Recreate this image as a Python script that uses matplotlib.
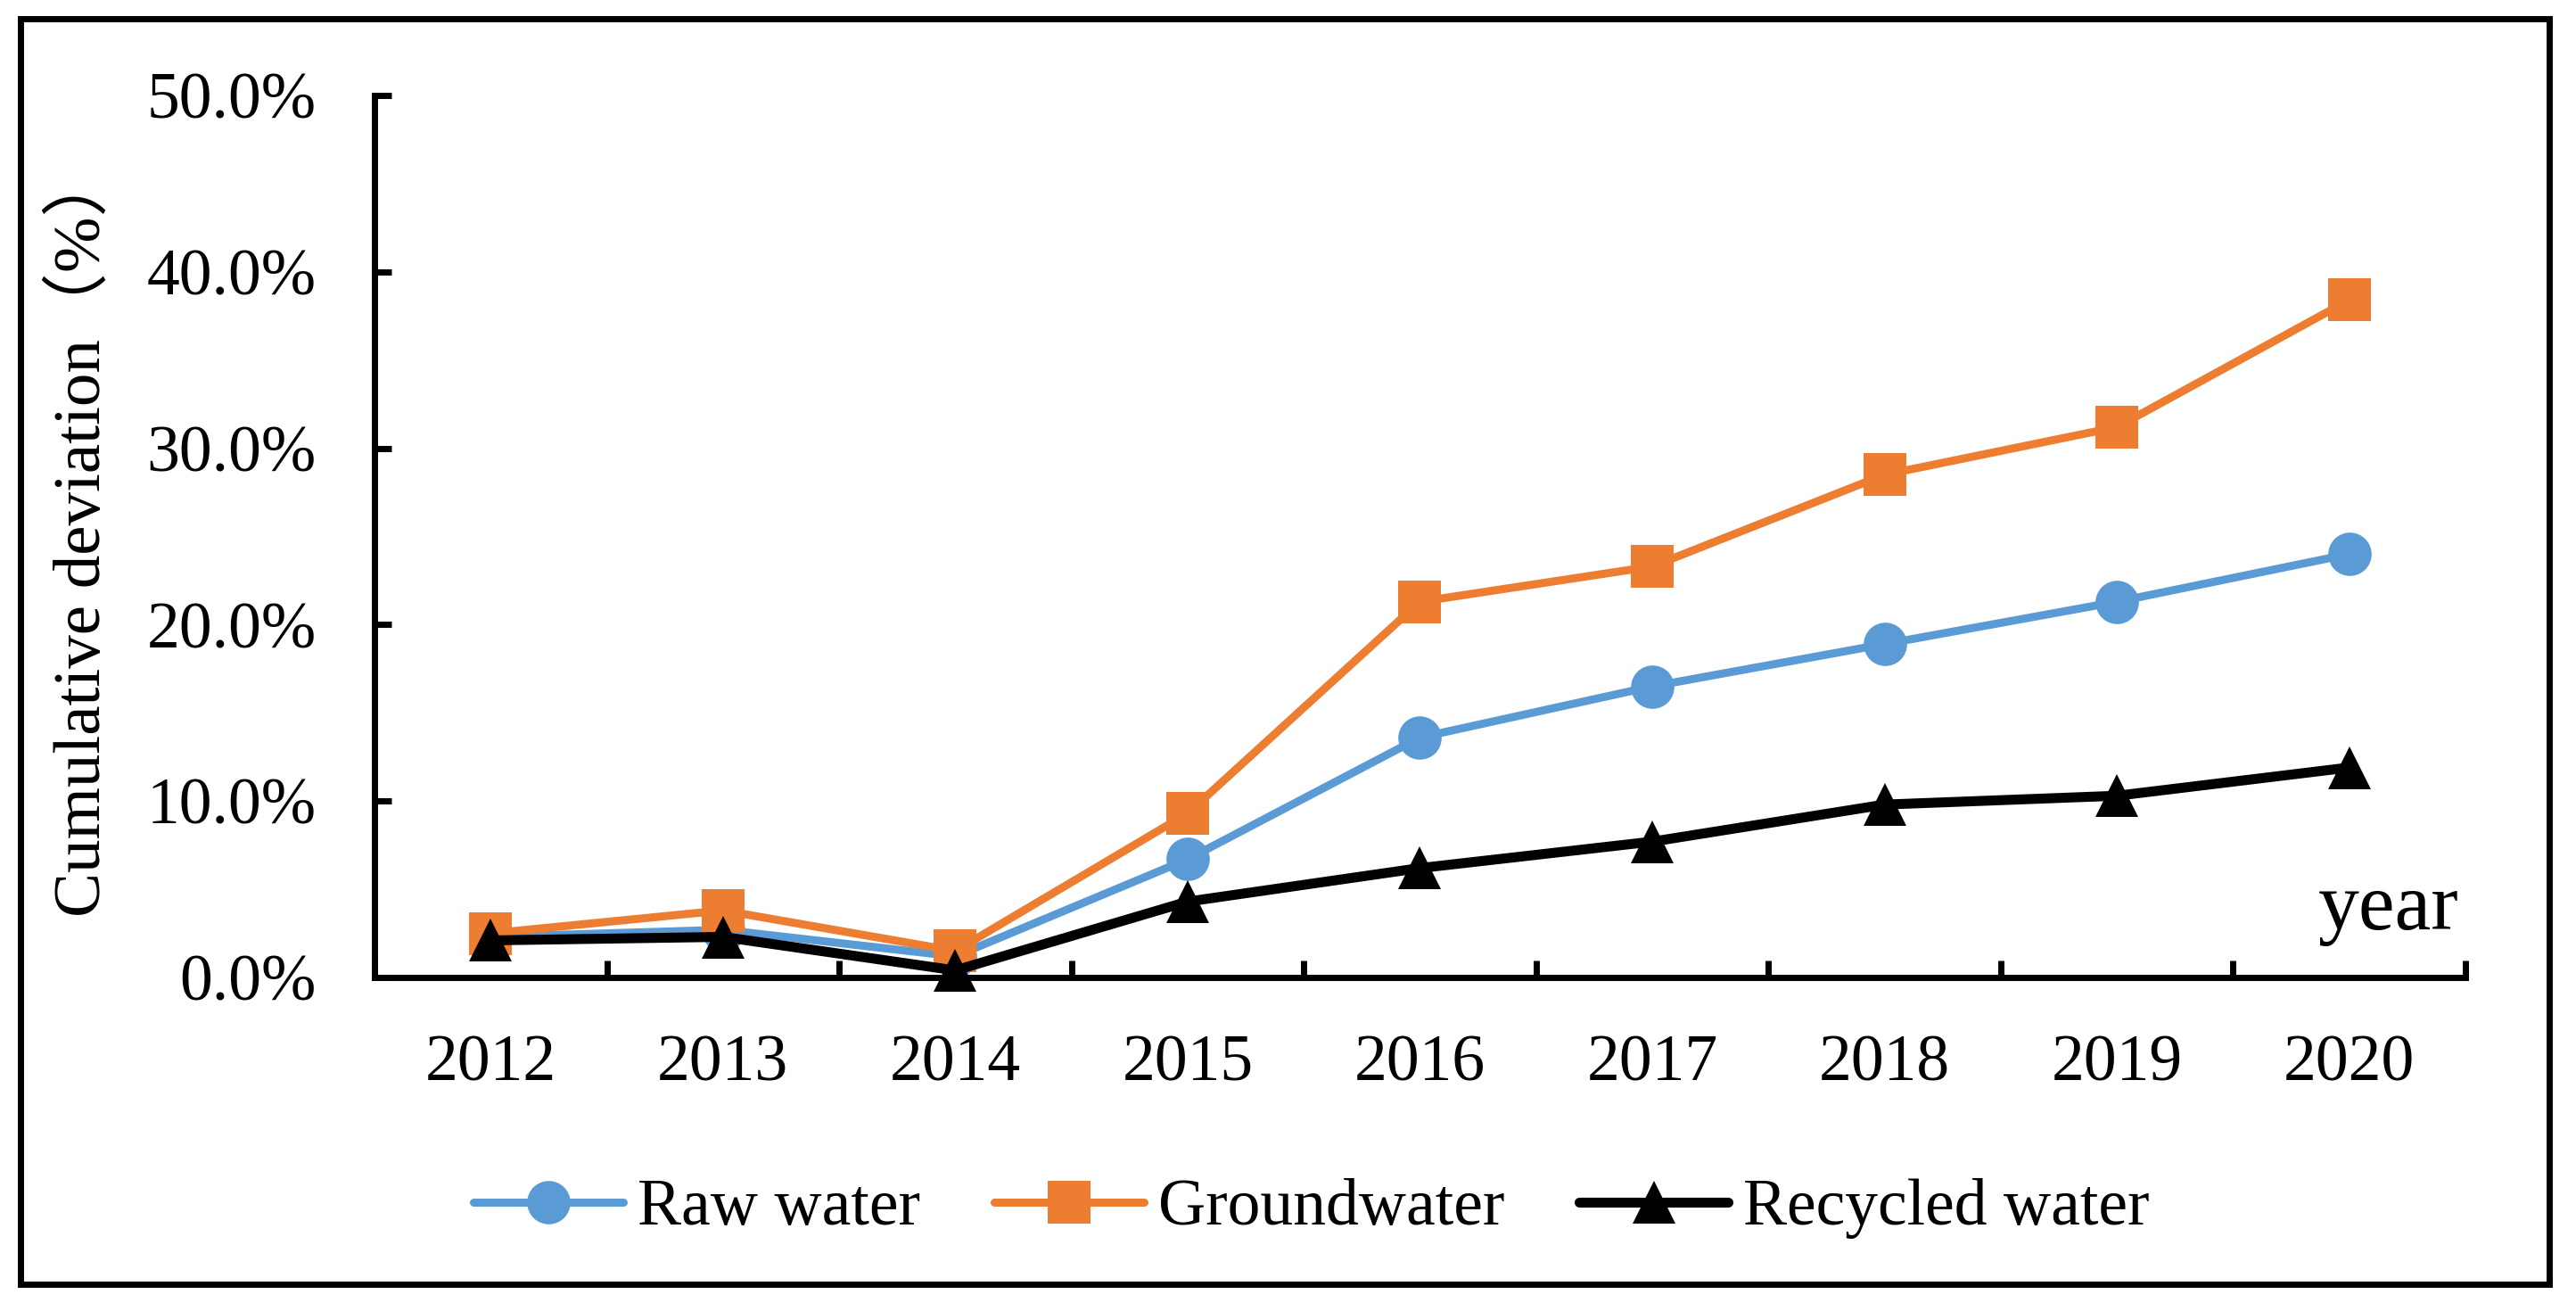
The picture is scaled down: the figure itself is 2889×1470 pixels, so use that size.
import numpy as np
import matplotlib
matplotlib.use("Agg")
import matplotlib.pyplot as plt
from matplotlib.patches import Rectangle
from matplotlib.ticker import PercentFormatter, FixedLocator

plt.rcParams['font.family'] = ['Liberation Serif', 'Noto Sans CJK SC', 'DejaVu Sans']

# data (cumulative deviation, %)
years = ['2012', '2013', '2014', '2015', '2016', '2017', '2018', '2019', '2020']
raw_water = [2.3, 2.7, 1.2, 6.7, 13.6, 16.5, 18.9, 21.3, 24.0]
groundwater = [2.5, 3.8, 1.5, 9.3, 21.3, 23.3, 28.5, 31.2, 38.4]
recycled_water = [2.1, 2.3, 0.4, 4.3, 6.2, 7.7, 9.8, 10.3, 11.9]

W, H = 2889, 1470
fig = plt.figure(figsize=(W / 100, H / 100), dpi=100)
ax = fig.add_axes([420 / W, 1 - 1096 / H, (2765 - 420) / W, (1096 - 107) / H])

x = np.arange(len(years))
ax.plot(x, raw_water, color='#5B9BD5', lw=6.5, marker='o', ms=35, mew=0,
        label='Raw water', solid_joinstyle='round', solid_capstyle='round')
ax.plot(x, groundwater, color='#ED7D31', lw=6.5, marker='s', ms=34, mew=0,
        label='Groundwater', solid_joinstyle='round', solid_capstyle='round')
ax.plot(x, recycled_water, color='black', lw=8, marker='^', ms=35, mew=0,
        label='Recycled water', solid_joinstyle='round', solid_capstyle='round')

ax.set_xlim(-0.5, len(years) - 0.5)
ax.set_ylim(0, 50)
ax.set_yticks([0, 10, 20, 30, 40, 50])
ax.yaxis.set_major_formatter(PercentFormatter(decimals=1))

# category axis: ticks between categories, labels at centres
ax.xaxis.set_major_locator(FixedLocator(np.arange(-0.5, len(years), 1.0)))
ax.xaxis.set_minor_locator(FixedLocator(x))
ax.set_xticklabels([], minor=False)
ax.set_xticklabels(years, minor=True)
ax.tick_params(axis='x', which='major', direction='in', length=14, width=5)
ax.tick_params(axis='x', which='minor', length=0, pad=46, labelsize=53)
ax.tick_params(axis='y', direction='in', length=14, width=5, pad=47, labelsize=53)

for s in ['top', 'right']:
    ax.spines[s].set_visible(False)
for s in ['left', 'bottom']:
    ax.spines[s].set_linewidth(5)
for ln in ax.lines:
    ln.set_clip_on(False)

fig.text(92 / W, 1 - 598 / H, 'Cumulative deviation（%）', rotation=90,
         ha='center', va='center', fontsize=54)
fig.text(2758 / W, 1 - 1042 / H, 'year', ha='right', va='baseline', fontsize=66)

fig.legend(loc='center', bbox_to_anchor=(0.509, 0.078), ncol=3, frameon=False,
           fontsize=53, handlelength=2.28, handletextpad=0.22, columnspacing=1.13)

fig.add_artist(Rectangle((23 / W, 1 - 1440 / H), (2859 - 23) / W, (1440 - 21) / H,
                         transform=fig.transFigure, fill=False, lw=5, color='black'))

fig.savefig('out.png', dpi=100)
